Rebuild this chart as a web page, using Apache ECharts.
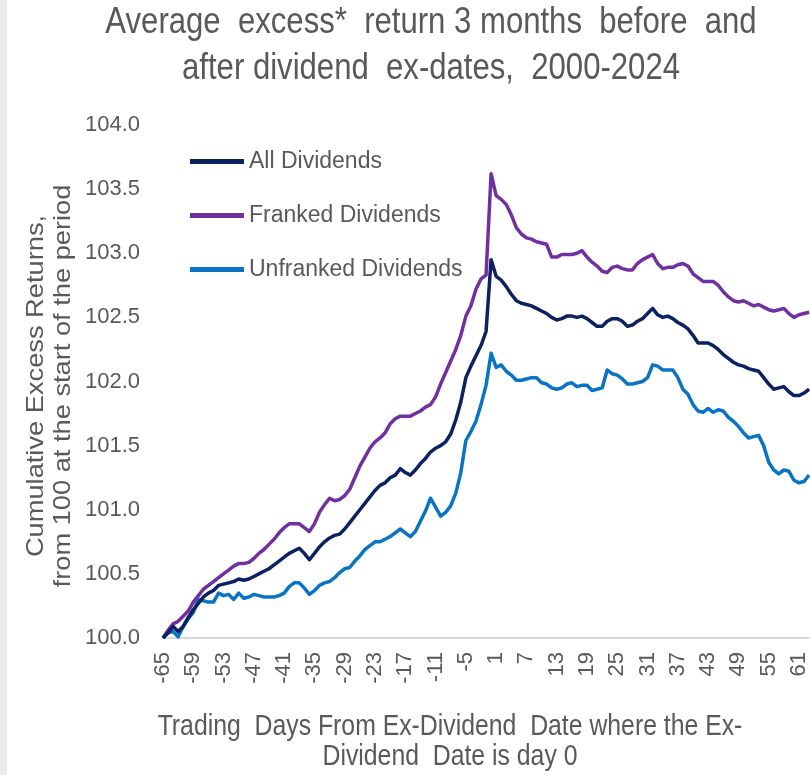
<!DOCTYPE html>
<html>
<head>
<meta charset="utf-8">
<title>Average excess return around dividend ex-dates</title>
<script src="https://cdn.jsdelivr.net/npm/echarts@6/dist/echarts.min.js"></script>
<style>
    html, body { margin: 0; padding: 0; background: #ffffff; }
    #chart { width: 810px; height: 775px; }
</style>
</head>
<body>
<div id="chart"></div>
<script>
// trading days relative to the ex-dividend date (day 0)
const days = [
    -65, -64, -63, -62, -61, -60, -59, -58, -57, -56, -55, -54, -53, -52, -51, -50,
    -49, -48, -47, -46, -45, -44, -43, -42, -41, -40, -39, -38, -37, -36, -35, -34,
    -33, -32, -31, -30, -29, -28, -27, -26, -25, -24, -23, -22, -21, -20, -19, -18,
    -17, -16, -15, -14, -13, -12, -11, -10, -9, -8, -7, -6, -5, -4, -3, -2, -1, 0,
    1, 2, 3, 4, 5, 6, 7, 8, 9, 10, 11, 12, 13, 14, 15, 16, 17, 18, 19, 20,
    21, 22, 23, 24, 25, 26, 27, 28, 29, 30, 31, 32, 33, 34, 35, 36, 37, 38, 39, 40,
    41, 42, 43, 44, 45, 46, 47, 48, 49, 50, 51, 52, 53, 54, 55, 56, 57, 58, 59, 60,
    61, 62, 63
];

const allDividends = [
    100.00, 100.04, 100.09, 100.05, 100.09, 100.16, 100.22, 100.27, 100.32, 100.35,
    100.37, 100.41, 100.42, 100.43, 100.44, 100.46, 100.45, 100.46, 100.48, 100.50,
    100.52, 100.54, 100.57, 100.60, 100.63, 100.66, 100.68, 100.70, 100.66, 100.61,
    100.66, 100.71, 100.75, 100.78, 100.80, 100.81, 100.85, 100.90, 100.95, 101.00,
    101.05, 101.10, 101.15, 101.19, 101.21, 101.25, 101.27, 101.32, 101.29, 101.27,
    101.31, 101.36, 101.40, 101.45, 101.48, 101.50, 101.53, 101.59, 101.70, 101.84,
    102.03, 102.12, 102.20, 102.28, 102.39, 102.95, 102.82, 102.79, 102.74, 102.68,
    102.63, 102.61, 102.60, 102.59, 102.57, 102.55, 102.53, 102.50, 102.48, 102.49,
    102.51, 102.51, 102.50, 102.51, 102.49, 102.46, 102.43, 102.43, 102.47, 102.49,
    102.49, 102.47, 102.43, 102.44, 102.47, 102.49, 102.53, 102.57, 102.52, 102.50,
    102.51, 102.49, 102.46, 102.44, 102.41, 102.36, 102.30, 102.30, 102.30, 102.28,
    102.25, 102.21, 102.18, 102.15, 102.13, 102.12, 102.10, 102.09, 102.08, 102.03,
    101.98, 101.94, 101.95, 101.96, 101.92, 101.89, 101.89, 101.91, 101.94
];

const frankedDividends = [
    100.00, 100.06, 100.11, 100.13, 100.17, 100.21, 100.28, 100.33, 100.38, 100.41,
    100.44, 100.47, 100.50, 100.53, 100.56, 100.58, 100.58, 100.59, 100.62, 100.66,
    100.69, 100.73, 100.77, 100.82, 100.86, 100.89, 100.89, 100.89, 100.86, 100.83,
    100.89, 100.98, 101.04, 101.09, 101.07, 101.08, 101.11, 101.16, 101.25, 101.34,
    101.41, 101.48, 101.53, 101.56, 101.60, 101.67, 101.71, 101.73, 101.73, 101.73,
    101.75, 101.77, 101.80, 101.82, 101.88, 101.98, 102.07, 102.16, 102.25, 102.36,
    102.51, 102.59, 102.72, 102.80, 102.83, 103.62, 103.45, 103.42, 103.38, 103.30,
    103.20, 103.15, 103.12, 103.11, 103.09, 103.08, 103.07, 102.97, 102.97, 102.99,
    102.99, 102.99, 103.00, 103.02, 102.97, 102.93, 102.90, 102.86, 102.85, 102.89,
    102.90, 102.88, 102.87, 102.87, 102.92, 102.95, 102.97, 102.99, 102.92, 102.88,
    102.89, 102.89, 102.91, 102.92, 102.90, 102.84, 102.81, 102.78, 102.78, 102.78,
    102.75, 102.70, 102.66, 102.63, 102.62, 102.63, 102.61, 102.59, 102.60, 102.58,
    102.56, 102.55, 102.56, 102.57, 102.53, 102.50, 102.52, 102.53, 102.54
];

const unfrankedDividends = [
    100.00, 100.04, 100.05, 100.01, 100.09, 100.15, 100.20, 100.30, 100.29, 100.28,
    100.28, 100.35, 100.33, 100.34, 100.30, 100.35, 100.31, 100.32, 100.34, 100.33,
    100.32, 100.32, 100.32, 100.33, 100.35, 100.40, 100.43, 100.43, 100.39, 100.34,
    100.37, 100.41, 100.43, 100.44, 100.47, 100.51, 100.54, 100.55, 100.60, 100.64,
    100.69, 100.72, 100.75, 100.75, 100.77, 100.79, 100.82, 100.85, 100.82, 100.79,
    100.83, 100.91, 100.99, 101.09, 101.02, 100.95, 100.98, 101.03, 101.13, 101.29,
    101.54, 101.61, 101.69, 101.82, 101.97, 102.22, 102.11, 102.13, 102.08, 102.05,
    102.01, 102.01, 102.02, 102.03, 102.03, 101.99, 101.98, 101.95, 101.94, 101.95,
    101.98, 101.99, 101.96, 101.97, 101.97, 101.93, 101.94, 101.95, 102.09, 102.06,
    102.05, 102.02, 101.98, 101.98, 101.99, 102.00, 102.03, 102.13, 102.12, 102.09,
    102.09, 102.09, 102.03, 101.94, 101.90, 101.82, 101.77, 101.76, 101.79, 101.76,
    101.78, 101.77, 101.72, 101.69, 101.65, 101.60, 101.56, 101.57, 101.58, 101.50,
    101.37, 101.31, 101.28, 101.31, 101.30, 101.23, 101.21, 101.22, 101.27
];

const seriesNames  = ['All Dividends', 'Franked Dividends', 'Unfranked Dividends'];
const seriesColors = ['#0b2160', '#7030a0', '#0a74c4'];

const titleText = 'Average  excess*  return 3 months  before  and\nafter dividend  ex-dates,  2000-2024';
const xName     = 'Trading  Days From Ex-Dividend  Date where the Ex-\nDividend  Date is day 0';
const yName     = 'Cumulative Excess Returns,\nfrom 100 at the start of the period';

const SANS = "'Liberation Sans', Arial, sans-serif";
const GREY = '#595959';

// the source picture is squeezed sideways, so headings get a scaled text element
function label(text, x, y, size, lineHeight, opts) {
    return Object.assign({
        type: 'text',
        x: x,
        y: y,
        silent: true,
        style: {
            text: text,
            fill: GREY,
            fontFamily: SANS,
            fontSize: size,
            lineHeight: lineHeight,
            align: 'center',
            textAlign: 'center',
            verticalAlign: 'top',
            textVerticalAlign: 'top',
        },
    }, opts);
}

function buildSeries() {
    const values = [allDividends, frankedDividends, unfrankedDividends];
    return seriesNames.map((name, i) => ({
        name:       name,
        type:       'line',
        data:       values[i],
        showSymbol: false,
        smooth:     false,
        z:          3 - i,
        lineStyle:  { color: seriesColors[i], width: 3.5, join: 'round' },
        itemStyle:  { color: seriesColors[i] },
    }));
}

function buildOption() {
    return {
        animation: false,
        backgroundColor: '#ffffff',
        graphic: [
            {
                type: 'rect',
                left: 0,
                top: 0,
                shape: { width: 7, height: 775 },
                style: { fill: '#ebebeb' },
                silent: true,
            },
            label(titleText, 431, 0, 36, 46, { scaleX: 0.864 }),
            label(xName, 450, 712, 29, 30, { scaleX: 0.855 }),
            label(yName, 23, 386, 24, 27, { rotation: Math.PI / 2, scaleX: 1.135 }),
        ],
        legend: {
            orient: 'vertical',
            left: 190,
            top: 148,
            padding: 0,
            itemWidth: 54,
            itemHeight: 5,
            itemGap: 27,
            icon: 'rect',
            data: seriesNames,
            textStyle: {
                fontFamily: SANS,
                fontSize: 23,
                color: GREY,
                lineHeight: 27,
            },
        },
        grid: { left: 163, right: -1, top: 125, bottom: 137 },
        xAxis: {
            type: 'category',
            data: days,
            boundaryGap: false,
            axisLine: { lineStyle: { color: '#d9d9d9', width: 2 } },
            axisTick: { show: false },
            splitLine: { show: false },
            axisLabel: {
                interval: 5,
                rotate: 90,
                margin: 14,
                fontFamily: SANS,
                fontSize: 22,
                color: GREY,
            },
        },
        yAxis: {
            type: 'value',
            min: 100,
            max: 104,
            interval: 0.5,
            axisLine: { show: false },
            axisTick: { show: false },
            splitLine: { show: false },
            axisLabel: {
                margin: 23,
                fontFamily: SANS,
                fontSize: 22,
                color: GREY,
                formatter: v => v.toFixed(1),
            },
        },
        series: buildSeries(),
    };
}

const chart = echarts.init(document.getElementById('chart'), null, { renderer: 'canvas' });
chart.setOption(buildOption());
window.addEventListener('resize', () => chart.resize());
</script>
</body>
</html>
